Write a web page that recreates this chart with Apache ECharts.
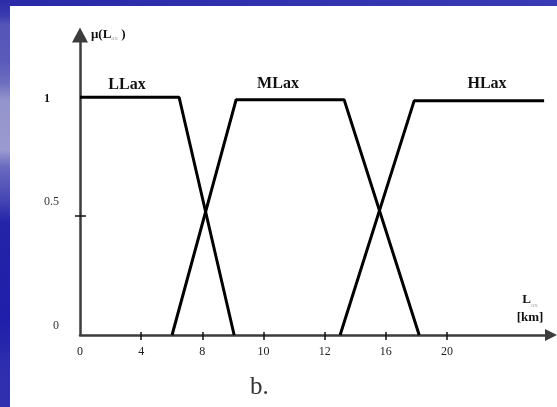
<!DOCTYPE html>
<html>
<head>
<meta charset="utf-8">
<script src="https://cdn.jsdelivr.net/npm/echarts@6/dist/echarts.min.js"></script>
<style>
  html, body { margin: 0; padding: 0; }
  body {
    width: 557px; height: 407px; position: relative; overflow: hidden;
    background: linear-gradient(to bottom, #2c2ca8 0px, #3a3ab0 15px, #5555b8 25px, #5a5abb 60px,
      #6c6cc0 82px, #9494cc 100px, #9a9ad0 150px, #6a6ac0 167px, #4646b4 200px, #2424a8 222px,
      #1e1eaa 320px, #2c2cae 360px, #3232b0 407px);
  }
  #bar { position: absolute; left: 10px; top: 0; width: 547px; height: 6px;
    background: linear-gradient(to right, #2a2aa8, #3232ae 50%, #3a3ab4); }
  #chart { position: absolute; left: 10px; top: 6px; width: 547px; height: 401px; background: #fff; }
</style>
</head>
<body>
<div id="bar"></div>
<div id="chart"></div>
<script>
// Axis ticks (value positions) and the text printed under them
const xTickValues = [0, 4, 8, 12, 16, 20, 24];
const xTickLabels = ['0', '4', '8', '10', '12', '16', '20'];
const yTickValues = [0, 0.5, 1];

// Membership functions: trapezoid vertices [L_ax, mu]
const seriesNames = ['LLax', 'MLax', 'HLax'];
const llax = [[0, 1], [6.48, 1], [10.08, 0]];
const mlax = [[6.02, 0], [10.21, 0.99], [17.27, 0.99], [22.18, 0]];
const hlax = [[17.01, 0], [21.85, 0.985], [30.35, 0.985]];

const X_MAX = 30.8;
const Y_MAX = 1.262;
const SERIF = '"Liberation Serif", "DejaVu Serif", serif';
const AXIS_COLOR = '#3c3c3c';

const chart = echarts.init(document.getElementById('chart'), null, { renderer: 'canvas' });

const lineSeries = (name, data) => ({
  name, type: 'line', data, symbol: 'none', animation: false,
  lineStyle: { color: '#000', width: 3 }, z: 3
});

const xFmt = v => {
  const i = xTickValues.indexOf(v);
  return i >= 0 ? xTickLabels[i] : '';
};

chart.setOption({
  animation: false,
  grid: { left: 70, right: 6, top: 29, bottom: 72 },
  xAxis: [{
    type: 'value', min: 0, max: X_MAX, position: 'bottom', offset: 0,
    splitLine: { show: false },
    axisLine: { show: true, lineStyle: { color: AXIS_COLOR, width: 2.5 },
      symbol: ['none', 'triangle'], symbolSize: [12, 12] },
    axisTick: { show: true, inside: false, length: 5, lineStyle: { color: '#111', width: 1.5 },
      customValues: xTickValues.slice(1) },
    axisLabel: { show: true, margin: 11, customValues: xTickValues, formatter: xFmt,
      fontFamily: SERIF, fontSize: 12, color: '#222' },
    name: '{L|L}{s|ax}\n{k|[km]}',
    nameLocation: 'end', nameGap: -21,
    nameTextStyle: {
      align: 'center', verticalAlign: 'bottom', padding: [0, 0, 9, 0],
      rich: {
        L: { fontFamily: SERIF, fontSize: 13, fontWeight: 'bold', color: '#111', lineHeight: 18 },
        s: { fontFamily: SERIF, fontSize: 7, color: '#aaa', verticalAlign: 'bottom', lineHeight: 18 },
        k: { fontFamily: SERIF, fontSize: 13, fontWeight: 'bold', color: '#111', lineHeight: 17 }
      }
    }
  }, {
    type: 'value', min: 0, max: X_MAX, position: 'bottom', offset: 0,
    splitLine: { show: false }, axisLine: { show: false }, axisLabel: { show: false },
    axisTick: { show: true, inside: true, length: 3, lineStyle: { color: '#111', width: 1.5 },
      customValues: xTickValues.slice(1) }
  }],
  yAxis: [{
    type: 'value', min: 0, max: Y_MAX, position: 'left', offset: 0,
    splitLine: { show: false },
    axisLine: { show: true, lineStyle: { color: AXIS_COLOR, width: 2.5 },
      symbol: ['none', 'triangle'], symbolSize: [16, 15] },
    axisTick: { show: true, inside: false, length: 5, lineStyle: { color: '#111', width: 1.5 },
      customValues: [0.5] },
    axisLabel: {
      show: true, margin: 21, customValues: yTickValues,
      formatter: v => v === 0 ? '{a|0}' : v === 0.5 ? '{b|0.5}' : '{c|1}',
      rich: {
        a: { fontFamily: SERIF, fontSize: 12, color: '#333', padding: [0, 0, 18, 0] },
        b: { fontFamily: SERIF, fontSize: 12, color: '#333', padding: [0, 0, 28, 0] },
        c: { fontFamily: SERIF, fontSize: 12, fontWeight: 'bold', color: '#111', padding: [4, 9, 0, 0] }
      }
    },
    name: '{m|\u03bc(L}{s|ax}{m| )}',
    nameLocation: 'end', nameGap: 0,
    nameTextStyle: {
      align: 'left', verticalAlign: 'middle', padding: [0, 0, 0, 11],
      rich: {
        m: { fontFamily: SERIF, fontSize: 13, fontWeight: 'bold', color: '#111' },
        s: { fontFamily: SERIF, fontSize: 7, color: '#aaa', verticalAlign: 'bottom' }
      }
    }
  }, {
    type: 'value', min: 0, max: Y_MAX, position: 'left', offset: 0,
    splitLine: { show: false }, axisLine: { show: false }, axisLabel: { show: false },
    axisTick: { show: true, inside: true, length: 6, lineStyle: { color: '#111', width: 1.5 },
      customValues: [0.5] }
  }],
  series: [
    lineSeries(seriesNames[0], llax),
    lineSeries(seriesNames[1], mlax),
    lineSeries(seriesNames[2], hlax)
  ],
  graphic: [
    { type: 'text', x: 117, y: 79, style: { text: seriesNames[0], font: 'bold 16px ' + SERIF, fill: '#111', align: 'center', verticalAlign: 'middle' } },
    { type: 'text', x: 268, y: 78, style: { text: seriesNames[1], font: 'bold 16px ' + SERIF, fill: '#111', align: 'center', verticalAlign: 'middle' } },
    { type: 'text', x: 477, y: 78, style: { text: seriesNames[2], font: 'bold 16px ' + SERIF, fill: '#111', align: 'center', verticalAlign: 'middle' } },
    { type: 'text', x: 240, y: 381, style: { text: 'b.', font: '25px ' + SERIF, fill: '#333', align: 'left', verticalAlign: 'middle' } }
  ]
});
</script>
</body>
</html>
